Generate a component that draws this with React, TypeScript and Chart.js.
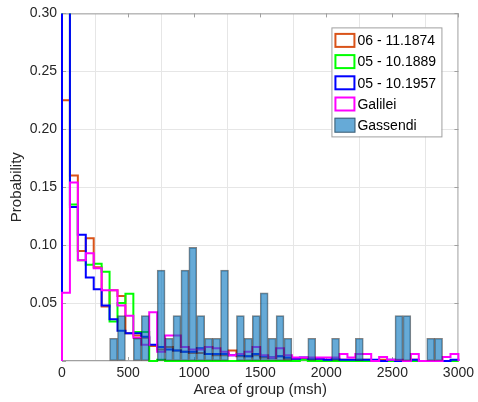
import React, { useEffect, useRef } from "react";
import { Chart, registerables } from "chart.js";
Chart.register(...registerables);

const binEdges = [0, 60, 120, 180, 240, 300, 360, 420, 480, 540, 600, 660, 720, 780, 840, 900, 960, 1020, 1080, 1140, 1200, 1260, 1320, 1380, 1440, 1500, 1560, 1620, 1680, 1740, 1800, 1860, 1920, 1980, 2040, 2100, 2160, 2220, 2280, 2340, 2400, 2460, 2520, 2580, 2640, 2700, 2760, 2820, 2880, 2940, 3000];

const series1874 = [0.225, 0.160, 0.095, 0.106, 0.081, 0.047, 0.061, 0.056, 0.024, 0.022, 0.020, 0.013, 0.010, 0.012, 0.009, 0.008, 0.007, 0.007, 0.006, 0.005, 0.005, 0.009, 0.004, 0.004, 0.005, 0.003, 0.003, 0.004, 0.002, 0.002, 0.002, 0.001, 0.002, 0.001, 0.001, 0.001, 0.001, 0.001, 0.001, 0, 0.001, 0, 0, 0, 0.001, 0, 0, 0, 0, 0];
const series1889 = [0.33, 0.135, 0.087, 0.083, 0.084, 0.077, 0.034, 0.050, 0.058, 0.025, 0.025, 0, 0.001, 0, 0, 0, 0, 0, 0, 0, 0, 0, 0, 0, 0, 0, 0, 0, 0, 0, 0.001, 0, 0, 0, 0, 0, 0, 0, 0, 0, 0, 0, 0, 0, 0, 0, 0, 0, 0, 0];
const series1957 = [0.31, 0.133, 0.109, 0.072, 0.062, 0.048, 0.036, 0.026, 0.024, 0.024, 0.021, 0.014, 0.012, 0.010, 0.009, 0.008, 0.008, 0.011, 0.006, 0.006, 0.006, 0.005, 0.005, 0.004, 0.006, 0.004, 0.003, 0.004, 0.003, 0.002, 0.003, 0.002, 0.002, 0.001, 0.002, 0.001, 0.001, 0.001, 0.001, 0.001, 0, 0.001, 0, 0, 0.001, 0, 0, 0, 0, 0.001];
const seriesGalilei = [0.059, 0.154, 0.087, 0.093, 0.080, 0.061, 0.061, 0.048, 0.039, 0.020, 0.014, 0.042, 0.008, 0.022, 0.022, 0.012, 0.010, 0.010, 0.012, 0.011, 0.008, 0.005, 0.006, 0.008, 0.012, 0.005, 0.003, 0.011, 0.005, 0.003, 0.003, 0.003, 0.003, 0.003, 0.003, 0.006, 0.003, 0.006, 0.006, 0, 0.0035, 0.001, 0.001, 0, 0.006, 0, 0, 0, 0.0035, 0.006];
const seriesGassendi = [0, 0, 0, 0, 0, 0, 0.0196, 0.0392, 0, 0.0196, 0.0392, 0, 0.0784, 0.0196, 0.0392, 0.0784, 0.098, 0.0392, 0.0196, 0.0196, 0.0784, 0, 0.0392, 0.0196, 0.0392, 0.0588, 0.0196, 0.0392, 0.0196, 0, 0, 0.0196, 0, 0, 0.0196, 0, 0, 0.0196, 0, 0, 0, 0, 0.0392, 0.0392, 0, 0, 0.0196, 0.0196, 0, 0];

const seriesLabels = ["06 - 11.1874", "05 - 10.1889", "05 - 10.1957", "Galilei", "Gassendi"];
const xTicks = [0, 500, 1000, 1500, 2000, 2500, 3000];
const yTicks = [0, 0.05, 0.1, 0.15, 0.2, 0.25, 0.3];

const FONT = "'Liberation Sans', Arial, Helvetica, sans-serif";
const TEXT = "#262626";
const BAR_FILL = "rgba(0,114,189,0.6)";
const BAR_EDGE = "rgba(30,30,30,0.55)";

// points (right edge of bin k, value k); drawn with stepped "after":
// vertical at previous x, then horizontal to the bin's right edge
function stairs(values: number[]) {
  const pts: { x: number; y: number }[] = [{ x: binEdges[0], y: 0 }];
  values.forEach((v, i) => pts.push({ x: binEdges[i + 1], y: v }));
  pts.push({ x: binEdges[values.length], y: 0 });
  return pts;
}

function barPoints(values: number[]) {
  return values.map((v, i) => ({ x: (binEdges[i] + binEdges[i + 1]) / 2, y: v > 0 ? v : null }));
}

const boxPlugin = {
  id: "matlabBox",
  beforeDatasetsDraw(chart: any) {
    const { ctx, chartArea } = chart;
    const xs = chart.scales.x;
    const ys = chart.scales.y;
    ctx.save();
    ctx.strokeStyle = "#a0a0a0";
    ctx.lineWidth = 1;
    ctx.strokeRect(chartArea.left + 0.5, chartArea.top + 0.5, chartArea.right - chartArea.left - 1, chartArea.bottom - chartArea.top - 1);
    ctx.beginPath();
    const tl = 4;
    xTicks.forEach((t) => {
      const px = Math.round(xs.getPixelForValue(t)) + 0.5;
      ctx.moveTo(px, chartArea.top);
      ctx.lineTo(px, chartArea.top + tl);
      ctx.moveTo(px, chartArea.bottom);
      ctx.lineTo(px, chartArea.bottom - tl);
    });
    yTicks.forEach((t) => {
      const py = Math.round(ys.getPixelForValue(t)) + 0.5;
      ctx.moveTo(chartArea.left, py);
      ctx.lineTo(chartArea.left + tl, py);
      ctx.moveTo(chartArea.right, py);
      ctx.lineTo(chartArea.right - tl, py);
    });
    ctx.stroke();
    ctx.restore();
  },
  afterDraw(chart: any) {
    const { ctx, chartArea } = chart;
    const x0 = chartArea.right - 127;
    const y0 = chartArea.top + 14;
    const w = 110;
    const h = 109;
    ctx.save();
    ctx.fillStyle = "#ffffff";
    ctx.fillRect(x0, y0, w, h);
    ctx.strokeStyle = "#a0a0a0";
    ctx.lineWidth = 1;
    ctx.strokeRect(x0 + 0.5, y0 + 0.5, w, h);
    ctx.font = `14px ${FONT}`;
    ctx.textBaseline = "middle";
    ctx.textAlign = "left";
    chart.data.datasets.forEach((ds: any, i: number) => {
      const cy = y0 + 13 + i * 21.2;
      const sx = x0 + 3;
      const sw = 21;
      const sh = 15;
      if (ds.type === "bar") {
        ctx.fillStyle = BAR_FILL;
        ctx.fillRect(sx, cy - sh / 2, sw, sh);
        ctx.strokeStyle = BAR_EDGE;
        ctx.lineWidth = 1;
        ctx.strokeRect(sx + 0.5, cy - sh / 2 + 0.5, sw - 1, sh - 1);
      } else {
        ctx.fillStyle = "#ffffff";
        ctx.fillRect(sx, cy - sh / 2, sw, sh);
        ctx.strokeStyle = ds.borderColor;
        ctx.lineWidth = 2;
        ctx.strokeRect(sx + 1, cy - sh / 2 + 1, sw - 2, sh - 2);
      }
      ctx.fillStyle = "#000000";
      ctx.fillText(ds.label, x0 + 26, cy + 1);
    });
    ctx.restore();
  },
};

export default function App() {
  const canvasRef = useRef<HTMLCanvasElement | null>(null);

  useEffect(() => {
    if (!canvasRef.current) return;
    const lineDs = (label: string, values: number[], color: string, order: number) => ({
      type: "line" as const,
      label,
      data: stairs(values),
      borderColor: color,
      backgroundColor: color,
      borderWidth: 2,
      pointRadius: 0,
      fill: false,
      stepped: "after",
      tension: 0,
      clip: { left: 2, right: 2, top: 0, bottom: 2 },
      order,
    });
    const chart = new Chart(canvasRef.current, {
      type: "bar",
      data: {
        datasets: [
          lineDs(seriesLabels[0], series1874, "rgb(217,83,25)", 4),
          lineDs(seriesLabels[1], series1889, "rgb(0,255,0)", 3),
          lineDs(seriesLabels[2], series1957, "rgb(0,0,255)", 2),
          lineDs(seriesLabels[3], seriesGalilei, "rgb(255,0,255)", 1),
          {
            type: "bar" as const,
            label: seriesLabels[4],
            data: barPoints(seriesGassendi) as any,
            backgroundColor: BAR_FILL,
            borderColor: BAR_EDGE,
            borderWidth: 1,
            borderSkipped: false,
            barPercentage: 1,
            categoryPercentage: 1,
            order: 0,
          },
        ] as any,
      },
      options: {
        animation: false,
        responsive: false,
        devicePixelRatio: 1,
        layout: { padding: { top: 13, right: 19, left: 0, bottom: 0 } },
        plugins: { legend: { display: false }, tooltip: { enabled: false } },
        scales: {
          x: {
            type: "linear",
            min: 0,
            max: 3000,
            offset: false,
            afterBuildTicks: (s: any) => {
              s.ticks = xTicks.map((v) => ({ value: v }));
            },
            afterFit: (s: any) => {
              s.height = 41;
            },
            grid: { color: "#e6e6e6", drawTicks: false },
            border: { display: false },
            ticks: {
              color: TEXT,
              font: { size: 14, family: FONT },
              padding: 4,
              maxRotation: 0,
              autoSkip: false,
              callback: (v: any) => String(v),
            },
            title: {
              display: true,
              text: "Area of group (msh)",
              color: TEXT,
              font: { size: 15, family: FONT },
              padding: { top: 0, bottom: 3 },
            },
          },
          y: {
            type: "linear",
            min: 0,
            max: 0.3,
            afterBuildTicks: (s: any) => {
              s.ticks = yTicks.map((v) => ({ value: v }));
            },
            afterFit: (s: any) => {
              s.width = 62;
            },
            grid: { color: "#e6e6e6", drawTicks: false },
            border: { display: false },
            ticks: {
              color: TEXT,
              font: { size: 14, family: FONT },
              padding: 5,
              autoSkip: false,
              callback: (v: any) => (Number(v) === 0 ? "" : Number(v).toFixed(2)),
            },
            title: {
              display: true,
              text: "Probability",
              color: TEXT,
              font: { size: 15, family: FONT },
              padding: { top: 8, bottom: 0 },
            },
          },
        },
      } as any,
      plugins: [boxPlugin],
    });
    return () => chart.destroy();
  }, []);

  return (
    <div style={{ position: "absolute", left: 0, top: 0, width: 478, height: 402, background: "#fff" }}>
      <canvas ref={canvasRef} width={478} height={402} style={{ display: "block", width: 478, height: 402 }} />
    </div>
  );
}
